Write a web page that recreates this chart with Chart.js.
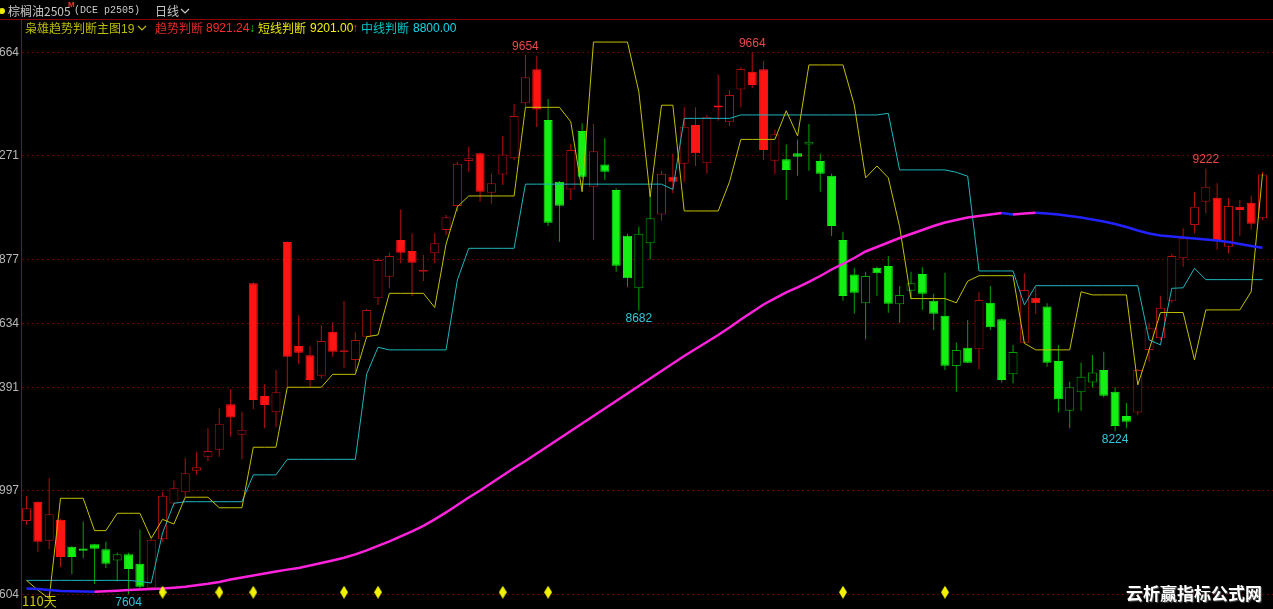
<!DOCTYPE html>
<html>
<head>
<meta charset="utf-8">
<title>棕榈油2505 日线</title>
<script src="https://cdn.jsdelivr.net/npm/chart.js@4.4.1/dist/chart.umd.min.js"></script>
<style>
  html, body { margin: 0; padding: 0; background: #000; overflow: hidden; }
  #wrap { position: relative; width: 1273px; height: 609px; }
  #kline { position: absolute; left: 0; top: 0; }
  .t { position: absolute; white-space: nowrap; font: 12px "Noto Sans CJK SC", "Liberation Sans", sans-serif; line-height: 16px; }
  .mono { font: 10px "Liberation Mono", "DejaVu Sans Mono", monospace; line-height: 16px; }
  .num { font-family: "Liberation Sans", Arial, sans-serif; }
  .dot { position: absolute; left: -1px; top: 8px; width: 6px; height: 6px; border-radius: 3px; background: #e8e800; }
  .chev { position: absolute; }
</style>
</head>
<body>
<div id="wrap">
  <canvas id="kline" width="1273" height="609"></canvas>

  <!-- header row 1 -->
  <div class="dot"></div>
  <span class="t" style="left:8px;top:3px;color:#c8c8c8">棕榈油2505</span>
  <span class="t num" style="left:68px;top:0px;color:#ff3030;font-size:8px;line-height:10px;font-weight:bold">M</span>
  <span class="t mono" style="left:74px;top:3px;color:#c8c8c8">(DCE p2505)</span>
  <span class="t" style="left:155px;top:3px;color:#c8c8c8">日线</span>
  <svg class="chev" style="left:180px;top:8px" width="10" height="7"><polyline points="1,1 5,5 9,1" fill="none" stroke="#c8c8c8" stroke-width="1.2"/></svg>

  <!-- header row 2 -->
  <span class="t" style="left:25px;top:20px;color:#bcbc00">枭雄趋势判断主图<span class="num">19</span></span>
  <svg class="chev" style="left:137px;top:25px" width="10" height="7"><polyline points="1,1 5,5 9,1" fill="none" stroke="#bcbc00" stroke-width="1.2"/></svg>
  <span class="t" style="left:155px;top:20px;color:#e02828">趋势判断</span>
  <span class="t num" style="left:206px;top:20px;color:#ff2a2a">8921.24</span>
  <span class="t num" style="left:249px;top:20px;color:#20d020">↓</span>
  <span class="t" style="left:258px;top:20px;color:#e6e600">短线判断</span>
  <span class="t num" style="left:310px;top:20px;color:#f2f200">9201.00</span>
  <span class="t num" style="left:352px;top:20px;color:#ff2a2a">↑</span>
  <span class="t" style="left:361px;top:20px;color:#00c4c4">中线判断</span>
  <span class="t num" style="left:413px;top:20px;color:#10d8e8">8800.00</span>

  <!-- footer -->
  <span class="t" style="left:22px;top:593px;color:#c8c800;font-size:13px">110天</span>
  <span class="t" style="left:1126px;top:583px;color:#ffffff;font-size:17px;font-weight:bold;line-height:20px;text-shadow:1px 1px 1px #555">云析赢指标公式网</span>
</div>

<script>
// price axis ticks
const yTicks = [9664, 9271, 8877, 8634, 8391, 7997, 7604];

// daily OHLC, 110 sessions
const openP = [
  7883, 7956, 7808, 7887, 7785, 7778, 7794, 7775, 7733, 7756,
  7720, 7627, 7813, 7949, 7992, 8074, 8127, 8153, 8326, 8210,
  8786, 8358, 8296, 8943, 8548, 8513, 8435, 8602, 8524, 8495,
  8583, 8729, 8811, 8951, 8909, 8830, 8900, 8989, 9080, 9251,
  9280, 9130, 9200, 9261, 9470, 9600, 9407, 9172, 9143, 9365,
  9153, 9238, 9141, 8967, 8767, 8938, 9048, 9191, 9240, 9388,
  9242, 9460, 9398, 9523, 9590, 9600, 9252, 9258, 9280, 9314,
  9251, 9195, 8951, 8820, 8710, 8845, 8852, 8706, 8758, 8821,
  8720, 8663, 8472, 8541, 8535, 8712, 8649, 8440, 8560, 8731,
  8698, 8491, 8302, 8372, 8409, 8457, 8374, 8282, 8295, 8533,
  8577, 8720, 8881, 9008, 9096, 9111, 8925, 9077, 9092, 9033
];
const highP = [
  7978, 7958, 8045, 7890, 7787, 7881, 7796, 7804, 7762, 7762,
  7849, 7815, 7994, 8037, 8123, 8146, 8235, 8311, 8383, 8298,
  8790, 8402, 8457, 8946, 8666, 8548, 8628, 8638, 8719, 8602,
  8688, 8881, 8902, 9067, 8976, 8894, 8976, 9046, 9248, 9305,
  9282, 9202, 9346, 9468, 9654, 9650, 9487, 9175, 9316, 9394,
  9392, 9337, 9147, 8974, 9001, 9128, 9214, 9278, 9455, 9455,
  9426, 9580, 9521, 9607, 9664, 9631, 9371, 9314, 9333, 9392,
  9278, 9202, 8982, 8843, 8830, 8849, 8890, 8776, 8830, 8847,
  8746, 8826, 8561, 8647, 8754, 8776, 8653, 8552, 8824, 8773,
  8710, 8552, 8412, 8485, 8514, 8526, 8391, 8331, 8460, 8636,
  8739, 8898, 8995, 9134, 9222, 9166, 9109, 9103, 9120, 9210
];
const lowP = [
  7868, 7765, 7775, 7708, 7680, 7741, 7643, 7704, 7653, 7604,
  7625, 7622, 7804, 7937, 7975, 8058, 8111, 8127, 8203, 8117,
  8307, 8235, 8239, 8393, 8478, 8393, 8425, 8507, 8463, 8450,
  8580, 8704, 8767, 8862, 8738, 8795, 8862, 8970, 9058, 9210,
  9096, 9088, 9160, 9255, 9457, 9380, 9004, 8944, 9103, 9186,
  8951, 9179, 8830, 8773, 8682, 8877, 9024, 9128, 9172, 9232,
  9202, 9404, 9384, 9455, 9527, 9255, 9202, 9103, 9195, 9214,
  9134, 8966, 8720, 8670, 8573, 8738, 8674, 8636, 8725, 8685,
  8609, 8457, 8374, 8483, 8459, 8609, 8408, 8406, 8559, 8670,
  8469, 8295, 8235, 8302, 8391, 8353, 8224, 8235, 8286, 8488,
  8571, 8712, 8849, 8976, 9052, 8914, 8900, 8966, 8990, 9027
];
const closeP = [
  7931, 7804, 7908, 7746, 7746, 7770, 7777, 7720, 7756, 7700,
  7633, 7811, 7979, 8007, 8064, 8087, 8149, 8252, 8276, 8229,
  8343, 8324, 8372, 8507, 8522, 8419, 8567, 8526, 8531, 8571,
  8685, 8875, 8890, 8902, 8864, 8837, 8938, 9037, 9240, 9261,
  9134, 9166, 9276, 9422, 9569, 9447, 9016, 9081, 9293, 9191,
  9288, 9210, 8853, 8805, 8974, 9033, 9202, 9172, 9381, 9280,
  9419, 9454, 9502, 9601, 9540, 9293, 9353, 9217, 9267, 9324,
  9202, 9004, 8738, 8750, 8814, 8824, 8708, 8742, 8786, 8746,
  8670, 8473, 8533, 8484, 8723, 8619, 8419, 8525, 8761, 8710,
  8484, 8345, 8391, 8431, 8447, 8359, 8244, 8260, 8457, 8615,
  8693, 8890, 8957, 9077, 9153, 8951, 9080, 9065, 9012, 9200
];

// indicator colouring of each candle: R = red state, G = green state
const trendSide = ('RRRR GGGGGGG RRRRRRRRRRRRRRRRRRRRRRRRRRRRRRRRRRR GG R G R GGGGG ' +
  'RRRRRRRRRRR GGGGGGGGGGGGGGGGG R GGG RR GGGGGGGG RRRRRRRRRRRR').replace(/ /g, '');

// 短线判断 (yellow)
const shortLine = [
  7657, 7620, 7588, 7969, 7969, 7969, 7846, 7846, 7912, 7912,
  7912, 7817, 7889, 7871, 7973, 7973, 7973, 7933, 7933, 7933,
  8163, 8163, 8163, 8391, 8391, 8391, 8391, 8440, 8440, 8440,
  8583, 8590, 8748, 8748, 8748, 8748, 8694, 8935, 9077, 9118,
  9118, 9118, 9118, 9118, 9455, 9455, 9455, 9455, 9400, 9134,
  9703, 9703, 9703, 9703, 9514, 9115, 9463, 9463, 9061, 9061,
  9061, 9061, 9172, 9333, 9333, 9333, 9333, 9442, 9346, 9616,
  9616, 9616, 9616, 9464, 9187, 9232, 9187, 9001, 8728, 8728,
  8728, 8728, 8712, 8794, 8815, 8815, 8815, 8815, 8558, 8533,
  8533, 8533, 8533, 8754, 8742, 8742, 8742, 8742, 8400, 8533,
  8675, 8675, 8675, 8495, 8685, 8685, 8685, 8685, 8754, 9201
];

// 中线判断 (cyan)
const midLine = [
  7657, 7657, 7657, 7657, 7657, 7657, 7657, 7657, 7657, 7657,
  7653, 7647, 7837, 7950, 7956, 7956, 7956, 7956, 7956, 7956,
  8058, 8058, 8058, 8117, 8117, 8117, 8117, 8117, 8117, 8117,
  8441, 8543, 8533, 8533, 8533, 8533, 8533, 8533, 8799, 8919,
  8919, 8919, 8919, 8919, 9163, 9163, 9163, 9163, 9163, 9163,
  9163, 9163, 9163, 9163, 9163, 9163, 9163, 9143, 9413, 9413,
  9413, 9413, 9413, 9426, 9426, 9426, 9426, 9426, 9426, 9426,
  9426, 9426, 9426, 9426, 9426, 9426, 9432, 9217, 9217, 9217,
  9217, 9217, 9208, 9193, 8833, 8833, 8833, 8833, 8704, 8777,
  8777, 8777, 8777, 8777, 8777, 8777, 8777, 8777, 8777, 8571,
  8552, 8767, 8769, 8843, 8800, 8800, 8800, 8800, 8800, 8800
];

// 趋势判断 (magenta rising / blue falling)
const trendLine = [
  7626.4, 7624.5, 7620.7, 7616.9, 7616.1, 7615.0, 7614.2, 7615.8, 7617.7, 7620.0,
  7622.6, 7624.5, 7626.0, 7629.1, 7632.9, 7638.6, 7644.3, 7651.1, 7660.6, 7668.2,
  7675.8, 7683.4, 7691.0, 7697.9, 7704.3, 7713.8, 7723.3, 7732.8, 7743.0, 7756.0,
  7770.8, 7787.9, 7805.0, 7824.0, 7843.0, 7863.9, 7888.6, 7915.2, 7943.7, 7972.2,
  7998.8, 8027.3, 8055.8, 8084.3, 8110.9, 8139.4, 8167.9, 8196.4, 8224.9, 8253.4,
  8281.9, 8310.4, 8338.9, 8367.4, 8395.9, 8424.4, 8452.9, 8481.4, 8509.9, 8536.5,
  8563.1, 8589.7, 8618.2, 8648.5, 8677.0, 8705.6, 8728.4, 8751.2, 8770.2, 8791.1,
  8813.9, 8838.6, 8859.5, 8882.3, 8907.0, 8924.1, 8941.2, 8958.3, 8973.5, 8988.7,
  9003.9, 9017.2, 9026.7, 9036.2, 9041.9, 9047.6, 9053.3, 9047.6, 9051.4, 9054.0,
  9051.4, 9047.6, 9041.9, 9036.2, 9028.6, 9021.0, 9011.5, 9000.1, 8986.8, 8975.4,
  8967.8, 8964.0, 8960.2, 8956.4, 8952.6, 8948.8, 8943.1, 8935.5, 8927.9, 8921.24
];

// signal diamonds along the bottom
const signalDays = [12, 17, 20, 28, 31, 42, 46, 72, 81];
const signalRow = 7612;

// marked extremes
const highMarks = [[44, 9654], [64, 9664], [104, 9222]];
const lowMarks = [[9, 7604], [54, 8682], [96, 8224]];

const RED_FILL = '#ff1414';
const RED_LINE = '#b40f0f';
const GREEN_FILL = '#14f014';
const GREEN_LINE = '#00a400';

const days = closeP.map((_, i) => i);
const isUp = days.map(i => closeP[i] > openP[i]);
const isRed = days.map(i => trendSide[i] === 'R');
const bodyFill = days.map(i => isUp[i] ? '#000000' : (isRed[i] ? RED_FILL : GREEN_FILL));
const bodyEdge = days.map(i => isUp[i] ? (isRed[i] ? RED_LINE : GREEN_LINE) : (isRed[i] ? RED_FILL : GREEN_FILL));
const wickColor = days.map(i => isRed[i] ? RED_LINE : GREEN_LINE);

// tall yellow diamond used as point style
const diamond = document.createElement('canvas');
diamond.width = 8;
diamond.height = 13;
(function () {
  const d = diamond.getContext('2d');
  d.fillStyle = '#f2f200';
  d.beginPath();
  d.moveTo(4, 0);
  d.lineTo(8, 6.5);
  d.lineTo(4, 13);
  d.lineTo(0, 6.5);
  d.closePath();
  d.fill();
})();

// black background, header rule, price labels and extreme value labels
const decorPlugin = {
  id: 'decor',
  beforeDraw(chart) {
    const c = chart.ctx;
    c.save();
    c.fillStyle = '#000';
    c.fillRect(0, 0, chart.width, chart.height);
    c.restore();
  },
  afterDraw(chart) {
    const c = chart.ctx;
    const xs = chart.scales.x;
    const ys = chart.scales.y;
    c.save();
    c.strokeStyle = '#8c0000';
    c.lineWidth = 1;
    c.beginPath();
    c.moveTo(0, 19.5);
    c.lineTo(chart.width, 19.5);
    c.stroke();

    // price ticks, right aligned against the axis (leading digit runs off the canvas)
    c.font = '12px "Liberation Sans", Arial, sans-serif';
    c.textAlign = 'right';
    c.textBaseline = 'middle';
    c.fillStyle = '#b8b8b8';
    yTicks.forEach(v => c.fillText(String(v), ys.left + ys.width - 2, ys.getPixelForValue(v)));

    c.textAlign = 'center';
    c.fillStyle = '#e84848';
    highMarks.forEach(([d, v]) => {
      c.fillText(String(v), xs.getPixelForValue(d), ys.getPixelForValue(v) - 8.5);
    });
    c.fillStyle = '#2ec8dc';
    lowMarks.forEach(([d, v]) => {
      c.fillText(String(v), xs.getPixelForValue(d), ys.getPixelForValue(v) + 8.5);
    });
    c.restore();
  }
};

new Chart(document.getElementById('kline'), {
  type: 'bar',
  data: {
    datasets: [
      {
        label: 'wick',
        data: days.map(i => ({ x: i, y: [lowP[i], highP[i]] })),
        backgroundColor: wickColor,
        borderWidth: 0,
        barThickness: 1,
        grouped: false,
        inflateAmount: 0,
        order: 4
      },
      {
        label: 'body',
        data: days.map(i => ({ x: i, y: [openP[i], closeP[i]] })),
        backgroundColor: bodyFill,
        borderColor: bodyEdge,
        borderWidth: 1,
        borderSkipped: false,
        barThickness: 9,
        minBarLength: 2,
        grouped: false,
        inflateAmount: 0,
        order: 3
      },
      {
        type: 'line',
        label: '中线判断',
        data: days.map(i => ({ x: i, y: midLine[i] })),
        borderColor: '#1fb4bc',
        borderWidth: 1,
        pointRadius: 0,
        tension: 0,
        fill: false,
        order: 2
      },
      {
        type: 'line',
        label: '短线判断',
        data: days.map(i => ({ x: i, y: shortLine[i] })),
        borderColor: '#c4c000',
        borderWidth: 1,
        pointRadius: 0,
        tension: 0,
        fill: false,
        order: 1
      },
      {
        type: 'line',
        label: '趋势判断',
        data: days.map(i => ({ x: i, y: trendLine[i] })),
        borderColor: '#ff22dd',
        borderWidth: 2.5,
        pointRadius: 0,
        tension: 0,
        fill: false,
        segment: {
          borderColor: ctx => ctx.p1.parsed.y < ctx.p0.parsed.y ? '#2222ff' : '#ff22dd'
        },
        order: 0
      },
      {
        type: 'line',
        label: 'signal',
        data: signalDays.map(d => ({ x: d, y: signalRow })),
        showLine: false,
        pointStyle: diamond,
        pointRadius: 6,
        order: -1
      }
    ]
  },
  options: {
    responsive: false,
    animation: false,
    events: [],
    layout: { autoPadding: false, padding: { top: 20, left: 0, right: 0, bottom: 0 } },
    plugins: {
      legend: { display: false },
      tooltip: { enabled: false }
    },
    scales: {
      x: {
        type: 'linear',
        offset: false,
        min: -0.485,
        max: 109.926,
        display: false
      },
      y: {
        type: 'linear',
        min: 7548.2,
        max: 9786.8,
        afterBuildTicks: s => { s.ticks = yTicks.map(v => ({ value: v })); },
        afterFit: s => { s.width = 21; },
        grid: { color: '#6a0000', lineWidth: 1, drawTicks: false },
        border: { display: true, color: '#a00000', width: 1, dash: [2, 3] },
        ticks: { display: false }
      }
    }
  },
  plugins: [decorPlugin]
});
</script>
</body>
</html>
